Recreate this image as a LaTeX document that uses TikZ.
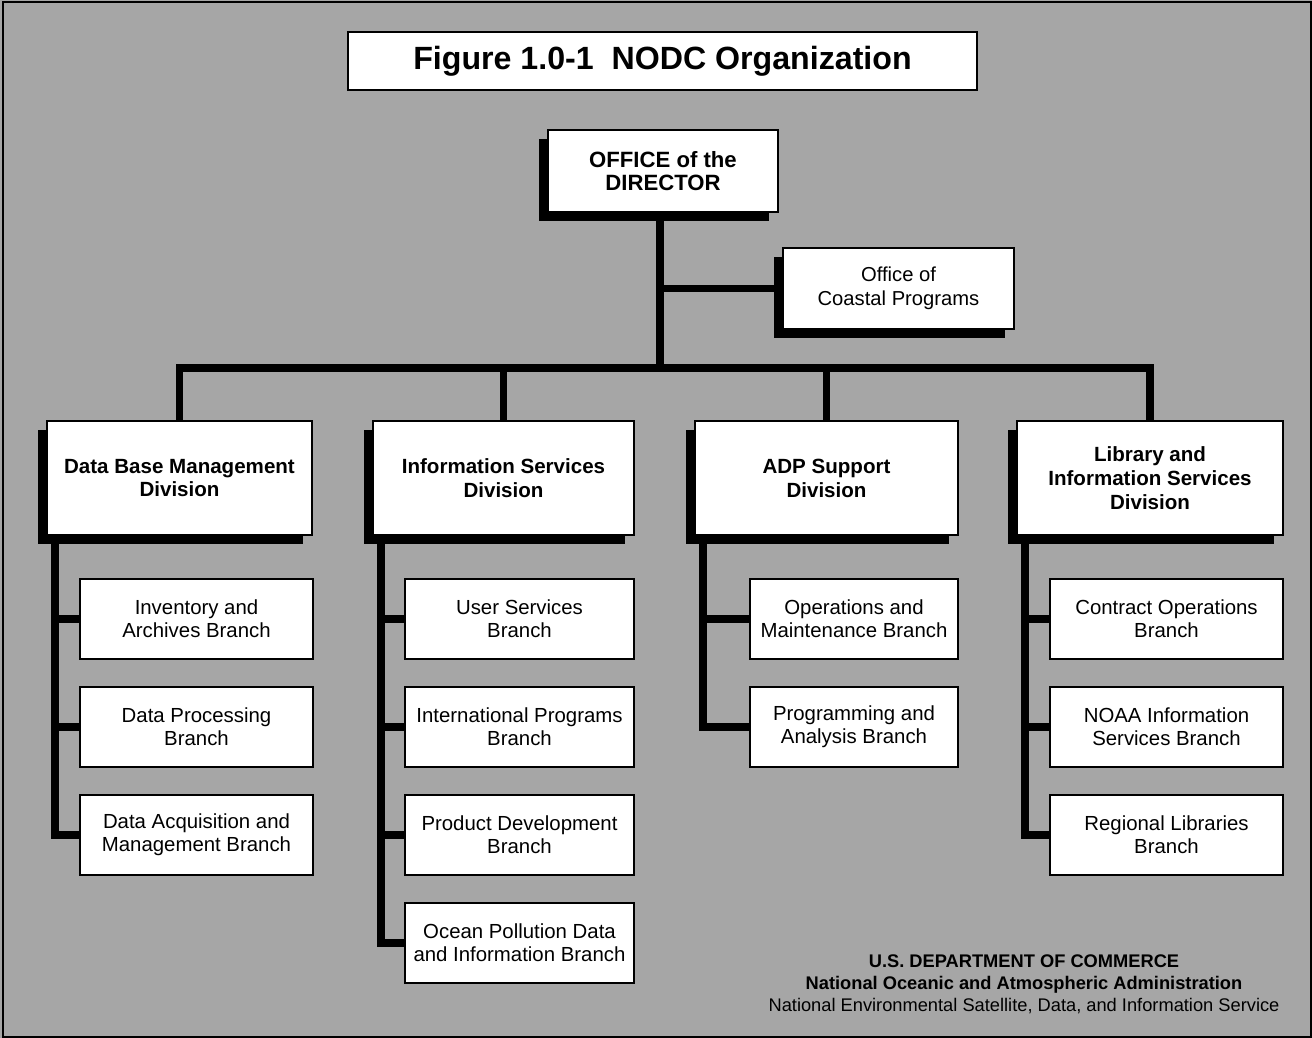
\documentclass[tikz,border=0pt]{standalone}
\usepackage{fontspec}
\setmainfont{Liberation Sans}
\usepackage{tikz}
\usetikzlibrary{shadows}

\tikzset{
  divbox/.style={draw=black,line width=1.2pt,fill=white,minimum width=5.3cm,minimum height=2.28cm,align=center,font=\bfseries\fontsize{11.7}{13.6}\selectfont,inner sep=2pt,
    drop shadow={shadow xshift=-0.18cm,shadow yshift=-0.18cm,fill=black,opacity=1}},
  brbox/.style={draw=black,line width=1.2pt,fill=white,minimum width=4.66cm,minimum height=1.6cm,align=center,font=\fontsize{11.6}{13.2}\selectfont,inner sep=2pt},
  bar/.style={line width=4pt}
}

\begin{document}
\begin{tikzpicture}[x=0.02cm,y=-0.02cm]
% background
\fill[black!35] (0,0) rectangle (1312,1038);
\useasboundingbox (0,0) rectangle (1312,1038);
\draw[line width=1pt] (3,2) rectangle (1311,1037);

% title
\node[draw=black,line width=1.2pt,fill=white,minimum width=12.58cm,minimum height=1.16cm,font=\bfseries\fontsize{18.3}{20}\selectfont] (title) at (662.5,61) {Figure 1.0-1\ \ NODC Organization};

% top level
\node[divbox,font=\bfseries\fontsize{12.6}{13.4}\selectfont,minimum width=4.6cm,minimum height=1.64cm] (dir) at (663,171) {OFFICE of the\\DIRECTOR};
\node[divbox,font=\fontsize{11.5}{13.4}\selectfont,minimum width=4.62cm,minimum height=1.62cm] (ocp) at (898.5,288.5) {Office of\\Coastal Programs};

% divisions
\node[divbox] (dbm) at (179.5,478) {Data Base Management\\Division};
\node[divbox,minimum width=5.22cm] (isd) at (503.5,478) {Information Services\\Division};
\node[divbox,minimum width=5.26cm] (adp) at (826.5,478) {ADP Support\\Division};
\node[divbox,minimum width=5.32cm] (lib) at (1150,478) {Library and\\Information Services\\Division};

% bus
\coordinate (bus) at (660,368);
\draw[bar] (dir.south -| bus) -- (bus);
\draw[bar] (ocp.west -| bus) -- (ocp.west);
\draw[bar,line cap=rect] (dbm.north |- bus) -- (lib.north |- bus);
\foreach \d in {dbm,isd,adp,lib}
  \draw[bar] (\d.north |- bus) -- (\d.north);

% branches
\node[brbox] (dbm1) at (196.5,619) {Inventory and\\Archives Branch};
\node[brbox] (dbm2) at (196.5,727) {Data Processing\\Branch};
\node[brbox] (dbm3) at (196.5,835) {Data Acquisition and\\Management Branch};

\node[brbox,minimum width=4.58cm] (isd1) at (519.5,619) {User Services\\Branch};
\node[brbox,minimum width=4.58cm] (isd2) at (519.5,727) {International Programs\\Branch};
\node[brbox,minimum width=4.58cm] (isd3) at (519.5,835) {Product Development\\Branch};
\node[brbox,minimum width=4.58cm] (isd4) at (519.5,943) {Ocean Pollution Data\\and Information Branch};

\node[brbox,minimum width=4.16cm] (adp1) at (854,619) {Operations and\\Maintenance Branch};
\node[brbox,minimum width=4.16cm] (adp2) at (854,727) {Programming and\\Analysis Branch};

\node[brbox] (lib1) at (1166.5,619) {Contract Operations\\Branch};
\node[brbox] (lib2) at (1166.5,727) {NOAA Information\\Services Branch};
\node[brbox] (lib3) at (1166.5,835) {Regional Libraries\\Branch};

% spines
\coordinate (s1) at (55,540);
\coordinate (s2) at (381,540);
\coordinate (s3) at (703,540);
\coordinate (s4) at (1025,540);
\draw[bar] (s1) -- (s1 |- dbm3.west) -- (dbm3.west);
\foreach \b in {dbm1,dbm2} \draw[bar] (s1 |- \b.west) -- (\b.west);
\draw[bar] (s2) -- (s2 |- isd4.west) -- (isd4.west);
\foreach \b in {isd1,isd2,isd3} \draw[bar] (s2 |- \b.west) -- (\b.west);
\draw[bar] (s3) -- (s3 |- adp2.west) -- (adp2.west);
\draw[bar] (s3 |- adp1.west) -- (adp1.west);
\draw[bar] (s4) -- (s4 |- lib3.west) -- (lib3.west);
\foreach \b in {lib1,lib2} \draw[bar] (s4 |- \b.west) -- (\b.west);

% footer
\node[align=center,font=\fontsize{10.4}{12.4}\selectfont] (doc) at (1024,984) {\textbf{U.S. DEPARTMENT OF COMMERCE}\\\textbf{National Oceanic and Atmospheric Administration}\\National Environmental Satellite, Data, and Information Service};
\end{tikzpicture}
\end{document}
